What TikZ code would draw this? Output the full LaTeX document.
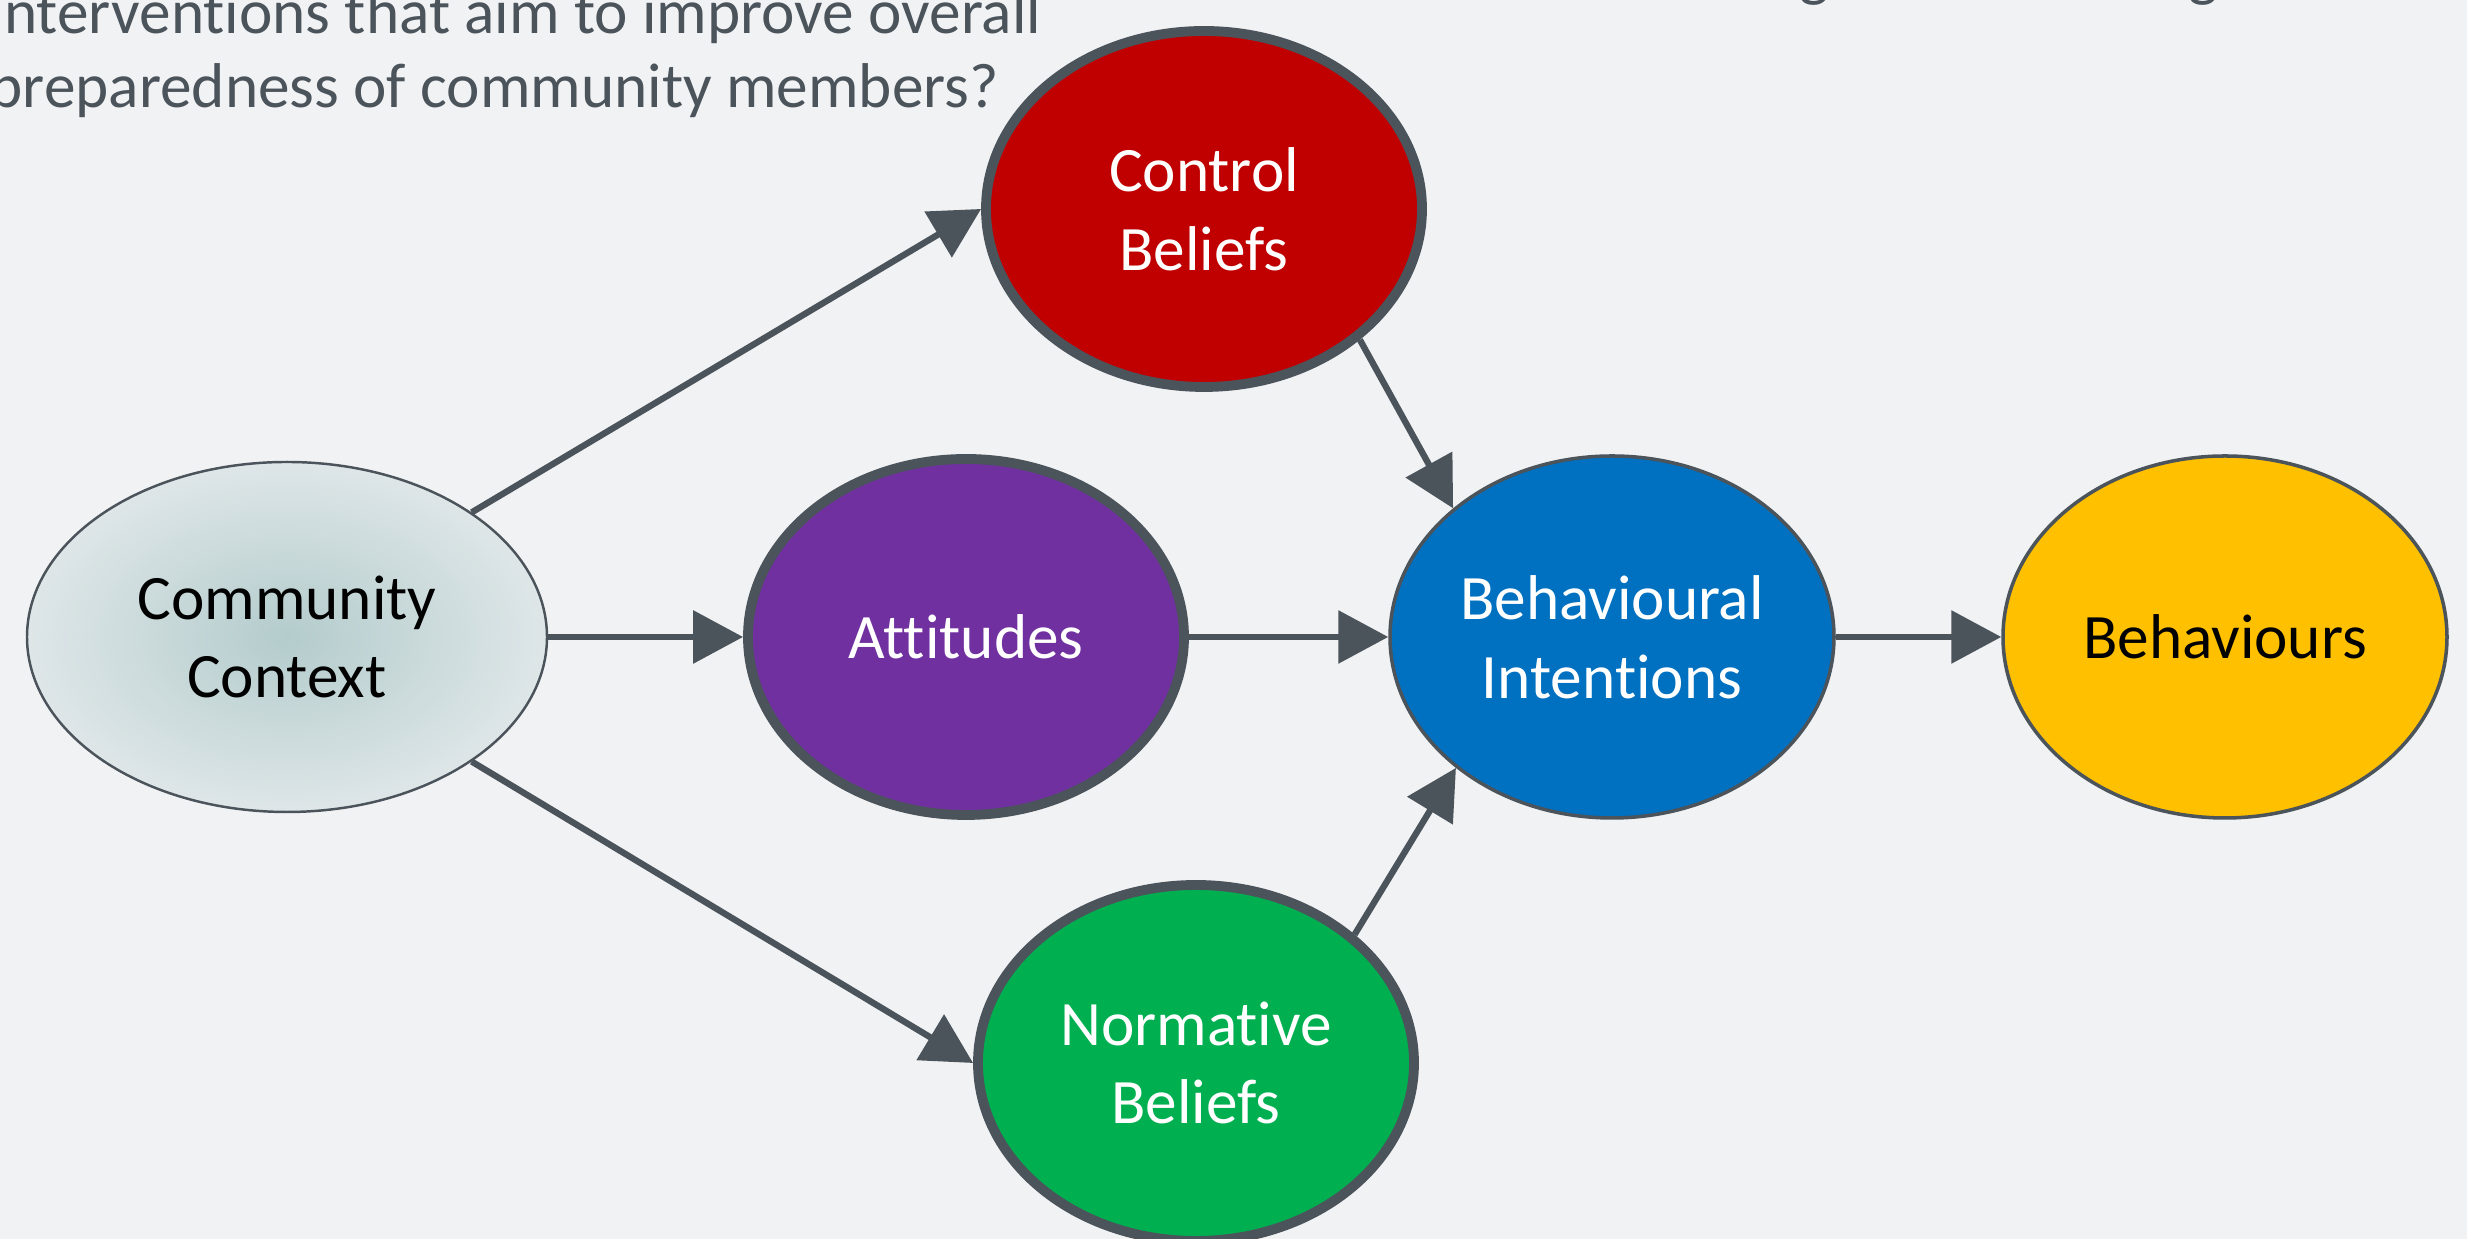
\documentclass[tikz,border=0pt]{standalone}
\usepackage{fontspec}
\setmainfont{Carlito}[Ligatures=CommonOff]
\usetikzlibrary{arrows.meta,shapes.geometric}
\definecolor{bggray}{HTML}{F1F2F4}
\definecolor{edgegray}{HTML}{4B535B}
\definecolor{ctrlred}{HTML}{C00000}
\definecolor{attpurple}{HTML}{7030A0}
\definecolor{bigblue}{HTML}{0070C0}
\definecolor{behyellow}{HTML}{FFC000}
\definecolor{normgreen}{HTML}{00B050}
\definecolor{ccinner}{HTML}{B4CCCC}
\definecolor{ccouter}{HTML}{DEE6E8}

\begin{document}
\begin{tikzpicture}[line join=round,>={Triangle[length=0.5cm,width=0.52cm]},x=1cm,y=1cm,
  bubble/.style={ellipse,draw=edgegray,line width=2.8pt,minimum width=4.36cm,minimum height=3.56cm,inner sep=0pt,text=white,align=center,font=\fontsize{18}{22.4}\selectfont},
  flatbubble/.style={bubble,line width=1pt,minimum width=4.44cm,minimum height=3.62cm},
  link/.style={->,draw=edgegray,fill=edgegray,line width=1.8pt},
  caption/.style={anchor=base west,inner sep=0pt,text=edgegray,align=left,font=\fontsize{18}{21.3}\selectfont}]
\useasboundingbox (0,0) rectangle (24.67,12.39);
\clip (0,0) rectangle (24.67,12.39);
\fill[bggray] (0,0) rectangle (24.67,12.39);
\node[caption] (question) at (-0.11,11.31) {interventions that aim to improve overall\\preparedness of community members?};
\node[caption] (warnings) at (13.84,12.44) {of official messages and warnings};
\node[flatbubble,draw=edgegray,line width=0.7pt,minimum width=5.2cm,minimum height=3.5cm,shading=radial,inner color=ccinner,outer color=ccouter,text=black] (cc) at (2.87,6.02) {Community\\Context};
\node[bubble,fill=ctrlred] (ctrl) at (12.04,10.30) {Control\\Beliefs};
\node[bubble,fill=attpurple] (att) at (9.66,6.02) {Attitudes};
\node[bubble,fill=normgreen] (norm) at (11.96,1.76) {Normative\\Beliefs};
\node[flatbubble,fill=bigblue] (bi) at (16.12,6.02) {Behavioural\\Intentions};
\node[flatbubble,fill=behyellow,text=black] (beh) at (22.25,6.02) {Behaviours};
\draw[link] (cc.34) -- (ctrl.west);
\draw[link] (cc.east) -- (att.west);
\draw[link] (cc.-34) -- (norm.west);
\draw[link] (ctrl.-40) -- (bi.141);
\draw[link] (att.east) -- (bi.west);
\draw[link] (norm.39) -- (bi.220);
\draw[link] (bi.east) -- (beh.west);
\end{tikzpicture}
\end{document}
